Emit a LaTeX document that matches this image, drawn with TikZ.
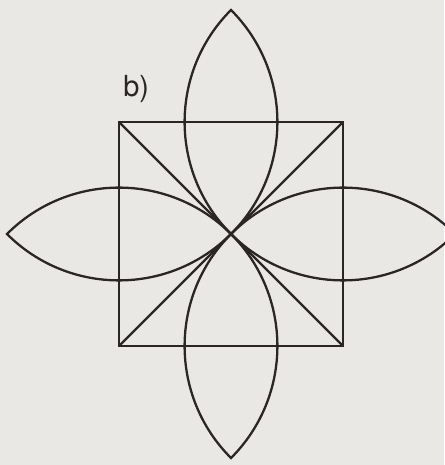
\documentclass[tikz,border=0pt]{standalone}
\usepackage{fontspec}
\setsansfont{TeX Gyre Heros}
\usetikzlibrary{calc}
\definecolor{papier}{HTML}{EAE8E4}
\definecolor{tinte}{HTML}{2B2625}
\tikzset{
  kante/.style={line width=1.3pt, draw=tinte},
  blatt/.style={line width=1.3pt, draw=tinte},
}
\begin{document}
\begin{tikzpicture}
    \fill[papier] (-4.62,-4.62) rectangle (4.26,4.68);
    \useasboundingbox (-4.62,-4.62) rectangle (4.26,4.68);
    \coordinate (M) at (0,0);
    \coordinate (A) at (-2.24,-2.24);
    \coordinate (B) at (2.24,-2.24);
    \coordinate (C) at (2.24,2.24);
    \coordinate (D) at (-2.24,2.24);
    \draw[kante] (A) rectangle (C);
    \draw[kante] (A) -- (C) (B) -- (D);
    \foreach \w in {0,90,180,270}
      \draw[blatt] (M) arc[start angle=-45+\w, end angle=45+\w, radius=3.168]
                       arc[start angle=135+\w, end angle=225+\w, radius=3.168];
    \node[font=\sffamily\fontsize{16.5}{18}\selectfont, text=tinte, anchor=base west, inner sep=0pt] (lbl) at (-2.16,2.74) {b)};
  \end{tikzpicture}
\end{document}
